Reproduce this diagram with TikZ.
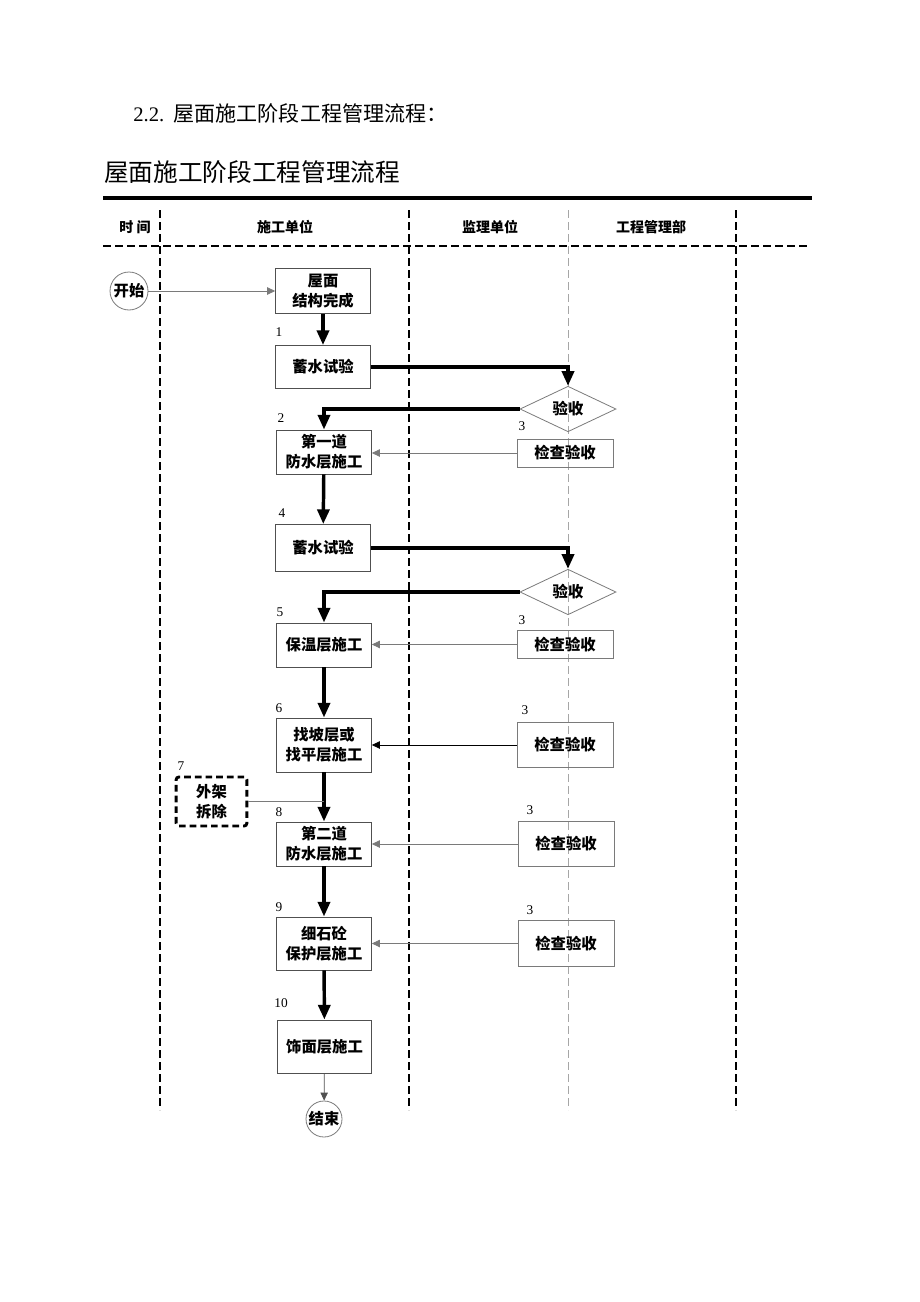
\documentclass[tikz,border=0pt]{standalone}
\usepackage{fontspec}
\setmainfont{Liberation Serif}
\newfontfamily\cjk{Noto Sans CJK SC}
\usetikzlibrary{shapes.geometric,arrows.meta}
\definecolor{edgegray}{HTML}{7A7A7A}
\definecolor{boxgray}{HTML}{505050}
\begin{document}
\begin{tikzpicture}[x=0.75pt,y=-0.75pt,
  box/.style={draw=boxgray,line width=0.7pt,minimum width=71pt,inner sep=0pt,align=center,
    font=\cjk\bfseries\fontsize{11.5}{15}\selectfont},
  chk/.style={draw=edgegray,line width=0.7pt,minimum width=72pt,inner sep=0pt,align=center,
    font=\cjk\bfseries\fontsize{11.5}{15}\selectfont},
  dia/.style={draw=edgegray,line width=0.6pt,diamond,minimum width=72pt,minimum height=31.5pt,inner sep=0pt,
    font=\cjk\bfseries\fontsize{11.5}{15}\selectfont},
  term/.style={draw=edgegray,line width=0.6pt,circle,inner sep=0pt,
    font=\cjk\bfseries\fontsize{11.5}{15}\selectfont},
  num/.style={font=\fontsize{10}{12}\selectfont,inner sep=0pt},
  hdr/.style={font=\cjk\bfseries\fontsize{10.5}{13}\selectfont,inner sep=0pt},
  flow/.style={line width=2.6pt,-{Triangle[length=11pt,width=9pt]}},
  feed/.style={draw=edgegray,line width=0.6pt,-{Triangle[length=6pt,width=5.5pt]}},
  lane/.style={line width=1.4pt,dash pattern=on 6pt off 3pt},
]
\useasboundingbox (0,0) rectangle (920,1302);

% headings
\node[anchor=west,inner sep=0pt,font=\fontsize{15.5}{18}\selectfont] (h1) at (133,113) {2.2.\hspace{7pt}{\cjk\fontsize{15.8}{18}\selectfont 屋面施工阶段工程管理流程：}};
\node[anchor=west,inner sep=0pt,font=\cjk\fontsize{18.5}{22}\selectfont] (h2) at (104,172) {屋面施工阶段工程管理流程};
\draw[line width=3pt] (103,198) -- (812,198);

% lanes
\draw[lane] (160,210) -- (160,1110);
\draw[lane] (409,210) -- (409,1110);
\draw[lane] (736,210) -- (736,1110);
\draw[draw=gray!70,line width=0.6pt,dash pattern=on 6pt off 3pt] (568,210) -- (568,1110);
\draw[lane] (103,246) -- (808,246);

\node[hdr] (t0) at (135,227) {时\ 间};
\node[hdr] (t1) at (285,227) {施工单位};
\node[hdr] (t2) at (490,227) {监理单位};
\node[hdr] (t3) at (651,227) {工程管理部};

% nodes
\node[term,minimum size=28.5pt] (start) at (129,291) {开始};
\node[box,minimum height=33.75pt] (b1) at (323,291) {屋面\\结构完成};
\node[box,minimum height=32.25pt] (b2) at (323,367) {蓄水试验};
\node[dia] (d1) at (568,409) {验收};
\node[box,minimum height=33pt] (b3) at (324,452) {第一道\\防水层施工};
\node[chk,minimum height=21pt] (c1) at (565,453) {检查验收};
\node[box,minimum height=35.25pt] (b4) at (323,548) {蓄水试验};
\node[dia] (d2) at (568,592) {验收};
\node[box,minimum height=33pt] (b5) at (324,645) {保温层施工};
\node[chk,minimum height=20.5pt] (c2) at (565,644.5) {检查验收};
\node[box,minimum height=40.5pt] (b6) at (324,745) {找坡层或\\找平层施工};
\node[chk,minimum height=34pt] (c3) at (565,745) {检查验收};
\node[box,draw=black,line width=2.2pt,dash pattern=on 5pt off 3pt,rounded corners=2pt,minimum width=53pt,minimum height=36.75pt] (w) at (211.5,801.5) {外架\\拆除};
\node[box,minimum height=33pt] (b8) at (324,844) {第二道\\防水层施工};
\node[chk,minimum height=34pt] (c4) at (566,844) {检查验收};
\node[box,minimum height=39.75pt] (b9) at (324,943.5) {细石砼\\保护层施工};
\node[chk,minimum height=34pt] (c5) at (566,943.5) {检查验收};
\node[box,minimum height=39.75pt] (b10) at (324.5,1046.5) {饰面层施工};
\node[term,minimum size=27pt] (end) at (324,1119) {结束};

% number labels
\node[num] (n1) at (279,332) {1};
\node[num] (n2) at (281,418) {2};
\node[num] (n3a) at (522,426) {3};
\node[num] (n4) at (282,513) {4};
\node[num] (n5) at (280,612) {5};
\node[num] (n3b) at (522,620) {3};
\node[num] (n6) at (279,708) {6};
\node[num] (n3c) at (525,710) {3};
\node[num] (n7) at (181,766) {7};
\node[num] (n8) at (279,812) {8};
\node[num] (n3d) at (530,810) {3};
\node[num] (n9) at (279,907) {9};
\node[num] (n3e) at (530,910) {3};
\node[num] (n10) at (281,1003) {10};

% connectors
\draw[feed] (start.east) -- (b1.west);
\draw[flow] (b1) -- (b2);
\draw[flow] (b2.east) -| (d1.north);
\draw[flow] (d1.west) -| (b3.north);
\draw[feed] (c1.west) -- (c1.west -| b3.east);
\draw[flow] (b3) -- (b4);
\draw[flow] (b4.east) -| (d2.north);
\draw[flow] (d2.west) -| (b5.north);
\draw[feed] (c2.west) -- (c2.west -| b5.east);
\draw[flow] (b5) -- (b6);
\draw[feed,draw=black] (c3.west) -- (b6.east);
\draw[flow] (b6) -- (b8);
\draw[draw=edgegray,line width=0.6pt] (w.east) -- (w.east -| b6.south);
\draw[feed] (c4.west) -- (b8.east);
\draw[flow] (b8) -- (b9);
\draw[feed] (c5.west) -- (b9.east);
\draw[flow] (b9) -- (b10);
\draw[draw=boxgray,line width=0.6pt,-{Triangle[length=6pt,width=5.5pt]}] (b10) -- (end);
\end{tikzpicture}
\end{document}
